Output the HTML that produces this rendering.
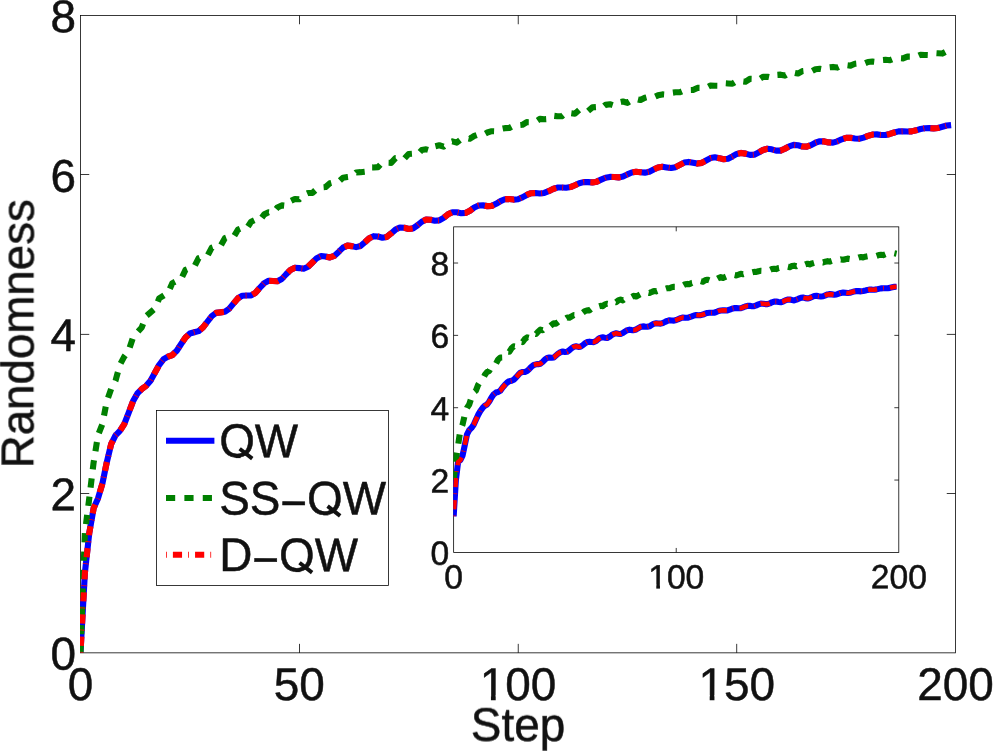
<!DOCTYPE html>
<html><head><meta charset="utf-8"><title>Randomness vs Step</title>
<style>html,body{margin:0;padding:0;background:#fff;}body{width:993px;height:751px;overflow:hidden;}svg{display:block;}text{font-family:"Liberation Sans",sans-serif;fill:#111;stroke:#111;stroke-width:0.5px;stroke-linejoin:round;text-rendering:geometricPrecision;}.t{filter:grayscale(1);}</style></head><body>
<svg width="993" height="751" viewBox="0 0 993 751">
<rect x="0" y="0" width="993" height="751" fill="#fff"/>
<defs>
<clipPath id="cm"><rect x="80.1" y="15.1" width="875.8" height="637.9"/></clipPath>
<clipPath id="ci"><rect x="453.25" y="226.45" width="445.95" height="326.34999999999997"/></clipPath>
</defs>
<!-- main axes -->
<rect x="80.5" y="15.5" width="875.0" height="637.35" stroke="#000" stroke-width="0.78" fill="none"/>
<path d="M299.50,652.85 V643.85 M299.50,15.5 V24.25" stroke="#000" stroke-width="0.78" fill="none"/>
<path d="M518.25,652.85 V643.85 M518.25,15.5 V24.25" stroke="#000" stroke-width="0.78" fill="none"/>
<path d="M736.70,652.85 V643.85 M736.70,15.5 V24.25" stroke="#000" stroke-width="0.78" fill="none"/>
<path d="M80.5,493.50 H89.25 M955.5,493.50 H946.75" stroke="#000" stroke-width="0.78" fill="none"/>
<path d="M80.5,334.40 H89.25 M955.5,334.40 H946.75" stroke="#000" stroke-width="0.78" fill="none"/>
<path d="M80.5,174.50 H89.25 M955.5,174.50 H946.75" stroke="#000" stroke-width="0.78" fill="none"/>
<g clip-path="url(#cm)" fill="none" stroke-width="6.11" stroke-linejoin="round" stroke-linecap="butt">
<path d="M80.50,652.60 L84.88,572.96 L89.25,533.14 L93.62,508.35 L98.00,498.40 L102.38,483.64 L106.75,462.44 L111.12,444.21 L115.50,435.35 L119.88,430.92 L124.25,424.13 L128.62,412.83 L133.00,401.35 L137.38,393.43 L141.75,389.05 L146.12,385.85 L150.50,380.71 L154.88,372.75 L159.25,364.77 L163.62,359.17 L168.00,356.66 L172.38,355.02 L176.75,350.71 L181.12,343.99 L185.50,337.60 L189.88,333.55 L194.25,332.26 L198.62,331.13 L203.00,327.44 L207.38,321.74 L211.75,316.13 L216.12,312.90 L220.50,312.35 L224.88,311.75 L229.25,308.66 L233.62,303.36 L238.00,298.25 L242.38,295.72 L246.75,295.55 L251.12,295.39 L255.50,292.77 L259.88,287.78 L264.25,283.11 L268.62,280.83 L273.00,280.93 L277.38,281.30 L281.75,279.00 L286.12,274.28 L290.50,269.90 L294.88,267.73 L299.25,268.09 L303.62,268.77 L308.00,266.79 L312.38,262.47 L316.75,258.19 L321.12,256.06 L325.50,256.58 L329.88,257.45 L334.25,255.91 L338.62,251.89 L343.00,247.65 L347.38,245.64 L351.75,246.13 L356.12,247.12 L360.50,246.04 L364.88,242.28 L369.25,238.19 L373.62,236.18 L378.00,236.53 L382.38,237.68 L386.75,236.92 L391.12,233.47 L395.50,229.61 L399.88,227.51 L404.25,227.76 L408.62,228.94 L413.00,228.38 L417.38,225.38 L421.75,221.73 L426.12,219.54 L430.50,219.72 L434.88,220.79 L439.25,220.39 L443.62,217.84 L448.00,214.37 L452.38,212.24 L456.75,212.31 L461.12,213.18 L465.50,212.91 L469.88,210.68 L474.25,207.51 L478.62,205.50 L483.00,205.38 L487.38,206.13 L491.75,205.87 L496.12,203.83 L500.50,201.07 L504.88,199.19 L509.25,198.96 L513.62,199.60 L518.00,199.19 L522.38,197.32 L526.75,194.95 L531.12,193.21 L535.50,193.00 L539.88,193.50 L544.25,192.92 L548.62,191.13 L553.00,189.01 L557.38,187.55 L561.75,187.44 L566.12,187.76 L570.50,187.08 L574.88,185.25 L579.25,183.25 L583.62,182.15 L588.00,182.14 L592.38,182.40 L596.75,181.65 L601.12,179.64 L605.50,177.72 L609.88,176.91 L614.25,177.06 L618.62,177.39 L623.00,176.53 L627.38,174.37 L631.75,172.45 L636.12,171.76 L640.50,172.17 L644.88,172.64 L649.25,171.70 L653.62,169.46 L658.00,167.41 L662.38,166.73 L666.75,167.43 L671.12,168.05 L675.50,167.15 L679.88,164.88 L684.25,162.61 L688.62,161.89 L693.00,162.76 L697.38,163.57 L701.75,162.86 L706.12,160.54 L710.50,158.12 L714.88,157.29 L719.25,158.14 L723.62,159.20 L728.00,158.72 L732.38,156.43 L736.75,153.94 L741.12,152.90 L745.50,153.63 L749.88,154.91 L754.25,154.64 L758.62,152.52 L763.00,150.03 L767.38,148.74 L771.75,149.34 L776.12,150.65 L780.50,150.60 L784.88,148.77 L789.25,146.30 L793.62,144.86 L798.00,145.27 L802.38,146.45 L806.75,146.61 L811.12,145.07 L815.50,142.73 L819.88,141.25 L824.25,141.41 L828.62,142.40 L833.00,142.66 L837.38,141.36 L841.75,139.29 L846.12,137.85 L850.50,137.77 L854.88,138.57 L859.25,138.76 L863.62,137.63 L868.00,135.92 L872.38,134.57 L876.75,134.37 L881.12,134.97 L885.50,134.96 L889.88,133.95 L894.25,132.52 L898.62,131.38 L903.00,131.20 L907.38,131.57 L911.75,131.36 L916.12,130.32 L920.50,129.04 L924.88,128.24 L929.25,128.17 L933.62,128.36 L938.00,127.98 L942.38,126.79 L946.75,125.56 L951.12,125.09" stroke="#0000ff"/>
<path d="M80.50,652.60 L84.88,533.14 L89.25,498.40 L93.62,462.44 L98.00,435.35 L102.38,424.13 L106.75,401.35 L111.12,389.05 L115.50,380.71 L119.88,364.77 L124.25,356.66 L128.62,350.71 L133.00,337.60 L137.38,332.26 L141.75,327.44 L146.12,316.13 L150.50,312.35 L154.88,308.66 L159.25,298.25 L163.62,295.55 L168.00,292.77 L172.38,283.11 L176.75,280.93 L181.12,279.00 L185.50,269.90 L189.88,268.09 L194.25,266.79 L198.62,258.19 L203.00,256.58 L207.38,255.91 L211.75,247.65 L216.12,246.13 L220.50,246.04 L224.88,238.19 L229.25,236.53 L233.62,236.92 L238.00,229.61 L242.38,227.76 L246.75,228.38 L251.12,221.73 L255.50,219.72 L259.88,220.39 L264.25,214.37 L268.62,212.31 L273.00,212.91 L277.38,207.51 L281.75,205.38 L286.12,205.87 L290.50,201.07 L294.88,198.96 L299.25,199.19 L303.62,194.95 L308.00,193.00 L312.38,192.92 L316.75,189.01 L321.12,187.44 L325.50,187.08 L329.88,183.25 L334.25,182.14 L338.62,181.65 L343.00,177.72 L347.38,177.06 L351.75,176.53 L356.12,172.45 L360.50,172.17 L364.88,171.70 L369.25,167.41 L373.62,167.43 L378.00,167.15 L382.38,162.61 L386.75,162.76 L391.12,162.86 L395.50,158.12 L399.88,158.14 L404.25,158.72 L408.62,153.94 L413.00,153.63 L417.38,154.64 L421.75,150.03 L426.12,149.34 L430.50,150.60 L434.88,146.30 L439.25,145.27 L443.62,146.61 L448.00,142.73 L452.38,141.41 L456.75,142.66 L461.12,139.29 L465.50,137.77 L469.88,138.76 L474.25,135.92 L478.62,134.37 L483.00,134.96 L487.38,132.52 L491.75,131.20 L496.12,131.36 L500.50,129.04 L504.88,128.17 L509.25,127.98 L513.62,125.56 L518.00,125.19 L522.38,124.82 L526.75,122.16 L531.12,122.23 L535.50,121.82 L539.88,118.86 L544.25,119.26 L548.62,118.98 L553.00,115.69 L557.38,116.22 L561.75,116.29 L566.12,112.69 L570.50,113.12 L574.88,113.69 L579.25,109.91 L583.62,110.02 L588.00,111.06 L592.38,107.32 L596.75,107.03 L601.12,108.36 L605.50,104.86 L609.88,104.19 L614.25,105.60 L618.62,102.47 L623.00,101.52 L627.38,102.82 L631.75,100.11 L636.12,98.99 L640.50,100.06 L644.88,97.76 L649.25,96.63 L653.62,97.34 L658.00,95.35 L662.38,94.41 L666.75,94.73 L671.12,92.86 L675.50,92.28 L679.88,92.29 L684.25,90.35 L688.62,90.13 L693.00,90.01 L697.38,87.88 L701.75,87.93 L706.12,87.84 L710.50,85.49 L714.88,85.70 L719.25,85.75 L723.62,83.17 L728.00,83.46 L732.38,83.74 L736.75,80.94 L741.12,81.20 L745.50,81.74 L749.88,78.84 L754.25,78.95 L758.62,79.72 L763.00,76.86 L767.38,76.74 L771.75,77.65 L776.12,74.94 L780.50,74.64 L784.88,75.59 L789.25,73.03 L793.62,72.62 L798.00,73.56 L802.38,71.11 L806.75,70.67 L811.12,71.55 L815.50,69.23 L819.88,68.77 L824.25,69.55 L828.62,67.40 L833.00,66.93 L837.38,67.57 L841.75,65.57 L846.12,65.12 L850.50,65.66 L854.88,63.75 L859.25,63.31 L863.62,63.82 L868.00,61.95 L872.38,61.53 L876.75,62.01 L881.12,60.16 L885.50,59.82 L889.88,60.20 L894.25,58.38 L898.62,58.19 L903.00,58.42 L907.38,56.57 L911.75,56.58 L916.12,56.73 L920.50,54.77 L924.88,54.95 L929.25,55.12 L933.62,53.00 L938.00,53.29 L942.38,53.57 L946.75,51.27 L951.12,51.61" stroke="#008000" stroke-dasharray="9.19 9.19"/>
<path d="M80.50,652.60 L84.88,572.96 L89.25,533.14 L93.62,508.35 L98.00,498.40 L102.38,483.64 L106.75,462.44 L111.12,444.21 L115.50,435.35 L119.88,430.92 L124.25,424.13 L128.62,412.83 L133.00,401.35 L137.38,393.43 L141.75,389.05 L146.12,385.85 L150.50,380.71 L154.88,372.75 L159.25,364.77 L163.62,359.17 L168.00,356.66 L172.38,355.02 L176.75,350.71 L181.12,343.99 L185.50,337.60 L189.88,333.55 L194.25,332.26 L198.62,331.13 L203.00,327.44 L207.38,321.74 L211.75,316.13 L216.12,312.90 L220.50,312.35 L224.88,311.75 L229.25,308.66 L233.62,303.36 L238.00,298.25 L242.38,295.72 L246.75,295.55 L251.12,295.39 L255.50,292.77 L259.88,287.78 L264.25,283.11 L268.62,280.83 L273.00,280.93 L277.38,281.30 L281.75,279.00 L286.12,274.28 L290.50,269.90 L294.88,267.73 L299.25,268.09 L303.62,268.77 L308.00,266.79 L312.38,262.47 L316.75,258.19 L321.12,256.06 L325.50,256.58 L329.88,257.45 L334.25,255.91 L338.62,251.89 L343.00,247.65 L347.38,245.64 L351.75,246.13 L356.12,247.12 L360.50,246.04 L364.88,242.28 L369.25,238.19 L373.62,236.18 L378.00,236.53 L382.38,237.68 L386.75,236.92 L391.12,233.47 L395.50,229.61 L399.88,227.51 L404.25,227.76 L408.62,228.94 L413.00,228.38 L417.38,225.38 L421.75,221.73 L426.12,219.54 L430.50,219.72 L434.88,220.79 L439.25,220.39 L443.62,217.84 L448.00,214.37 L452.38,212.24 L456.75,212.31 L461.12,213.18 L465.50,212.91 L469.88,210.68 L474.25,207.51 L478.62,205.50 L483.00,205.38 L487.38,206.13 L491.75,205.87 L496.12,203.83 L500.50,201.07 L504.88,199.19 L509.25,198.96 L513.62,199.60 L518.00,199.19 L522.38,197.32 L526.75,194.95 L531.12,193.21 L535.50,193.00 L539.88,193.50 L544.25,192.92 L548.62,191.13 L553.00,189.01 L557.38,187.55 L561.75,187.44 L566.12,187.76 L570.50,187.08 L574.88,185.25 L579.25,183.25 L583.62,182.15 L588.00,182.14 L592.38,182.40 L596.75,181.65 L601.12,179.64 L605.50,177.72 L609.88,176.91 L614.25,177.06 L618.62,177.39 L623.00,176.53 L627.38,174.37 L631.75,172.45 L636.12,171.76 L640.50,172.17 L644.88,172.64 L649.25,171.70 L653.62,169.46 L658.00,167.41 L662.38,166.73 L666.75,167.43 L671.12,168.05 L675.50,167.15 L679.88,164.88 L684.25,162.61 L688.62,161.89 L693.00,162.76 L697.38,163.57 L701.75,162.86 L706.12,160.54 L710.50,158.12 L714.88,157.29 L719.25,158.14 L723.62,159.20 L728.00,158.72 L732.38,156.43 L736.75,153.94 L741.12,152.90 L745.50,153.63 L749.88,154.91 L754.25,154.64 L758.62,152.52 L763.00,150.03 L767.38,148.74 L771.75,149.34 L776.12,150.65 L780.50,150.60 L784.88,148.77 L789.25,146.30 L793.62,144.86 L798.00,145.27 L802.38,146.45 L806.75,146.61 L811.12,145.07 L815.50,142.73 L819.88,141.25 L824.25,141.41 L828.62,142.40 L833.00,142.66 L837.38,141.36 L841.75,139.29 L846.12,137.85 L850.50,137.77 L854.88,138.57 L859.25,138.76 L863.62,137.63 L868.00,135.92 L872.38,134.57 L876.75,134.37 L881.12,134.97 L885.50,134.96 L889.88,133.95 L894.25,132.52 L898.62,131.38 L903.00,131.20 L907.38,131.57 L911.75,131.36 L916.12,130.32 L920.50,129.04 L924.88,128.24 L929.25,128.17 L933.62,128.36 L938.00,127.98 L942.38,126.79 L946.75,125.56 L951.12,125.09" stroke="#ff0000" stroke-width="6.11" stroke-dasharray="0.8 6.09 9.167 6.111"/>
</g>
<!-- inset axes -->
<rect x="453.65" y="226.85" width="445.15" height="325.54999999999995" stroke="#000" stroke-width="0.78" fill="none" fill="#fff"/>
<path d="M676.22,552.4 V547.9499999999999 M676.22,226.85 V231.29999999999998" stroke="#000" stroke-width="0.78" fill="none"/>
<path d="M453.65,480.06 H458.09999999999997 M898.8,480.06 H894.3499999999999" stroke="#000" stroke-width="0.78" fill="none"/>
<path d="M453.65,407.71 H458.09999999999997 M898.8,407.71 H894.3499999999999" stroke="#000" stroke-width="0.78" fill="none"/>
<path d="M453.65,335.37 H458.09999999999997 M898.8,335.37 H894.3499999999999" stroke="#000" stroke-width="0.78" fill="none"/>
<path d="M453.65,263.02 H458.09999999999997 M898.8,263.02 H894.3499999999999" stroke="#000" stroke-width="0.78" fill="none"/>
<g clip-path="url(#ci)" fill="none" stroke-width="6.11" stroke-linejoin="round" stroke-linecap="butt">
<path d="M453.65,516.23 L455.88,480.06 L458.10,461.97 L460.33,460.20 L462.55,455.68 L464.78,445.12 L467.00,434.36 L469.23,430.18 L471.46,427.93 L473.68,424.69 L475.91,419.75 L478.13,414.90 L480.36,411.06 L482.58,407.96 L484.81,405.70 L487.04,404.51 L489.26,401.49 L491.49,397.49 L493.71,394.31 L495.94,392.57 L498.16,392.00 L500.39,390.59 L502.62,387.50 L504.84,384.90 L507.07,382.63 L509.29,381.16 L511.52,380.73 L513.75,379.69 L515.97,377.54 L518.20,374.96 L520.42,372.66 L522.65,372.02 L524.87,372.00 L527.10,370.96 L529.33,368.95 L531.55,366.61 L533.78,364.94 L536.00,364.33 L538.23,364.14 L540.45,363.72 L542.68,361.95 L544.91,359.56 L547.13,358.05 L549.36,357.53 L551.58,357.76 L553.81,357.45 L556.03,355.50 L558.26,353.56 L560.49,352.20 L562.71,351.56 L564.94,351.94 L567.16,351.78 L569.39,350.16 L571.61,348.27 L573.84,346.69 L576.07,346.34 L578.29,346.86 L580.52,346.66 L582.74,345.27 L584.97,343.42 L587.19,341.99 L589.42,341.67 L591.65,341.96 L593.87,342.08 L596.10,340.99 L598.32,339.00 L600.55,337.68 L602.78,337.33 L605.00,337.66 L607.23,337.93 L609.45,336.79 L611.68,335.06 L613.90,333.87 L616.13,333.30 L618.36,333.67 L620.58,333.97 L622.81,333.04 L625.03,331.52 L627.26,330.14 L629.48,329.66 L631.71,330.11 L633.94,330.22 L636.16,329.49 L638.39,328.16 L640.61,326.80 L642.84,326.38 L645.06,326.61 L647.29,326.75 L649.52,326.27 L651.74,324.94 L653.97,323.68 L656.19,323.29 L658.42,323.44 L660.64,323.60 L662.87,323.02 L665.10,321.89 L667.32,320.91 L669.55,320.33 L671.77,320.46 L674.00,320.65 L676.22,319.99 L678.45,319.07 L680.68,318.13 L682.90,317.57 L685.13,317.82 L687.35,317.81 L689.58,317.10 L691.81,316.35 L694.03,315.49 L696.26,315.06 L698.48,315.21 L700.71,315.14 L702.93,314.54 L705.16,313.65 L707.39,312.92 L709.61,312.69 L711.84,312.75 L714.06,312.71 L716.29,312.03 L718.51,311.05 L720.74,310.55 L722.97,310.35 L725.19,310.39 L727.42,310.46 L729.64,309.67 L731.87,308.66 L734.09,308.16 L736.32,308.03 L738.55,308.28 L740.77,308.26 L743.00,307.40 L745.22,306.46 L747.45,305.84 L749.67,305.81 L751.90,306.19 L754.13,306.11 L756.35,305.39 L758.58,304.35 L760.80,303.58 L763.03,303.69 L765.25,304.12 L767.48,304.11 L769.71,303.44 L771.93,302.30 L774.16,301.56 L776.38,301.60 L778.61,302.01 L780.84,302.23 L783.06,301.57 L785.29,300.40 L787.51,299.65 L789.74,299.52 L791.96,300.04 L794.19,300.37 L796.42,299.68 L798.64,298.66 L800.87,297.83 L803.09,297.57 L805.32,298.11 L807.54,298.45 L809.77,297.94 L812.00,297.00 L814.22,296.04 L816.45,295.80 L818.67,296.25 L820.90,296.54 L823.12,296.23 L825.35,295.32 L827.58,294.42 L829.80,294.15 L832.03,294.39 L834.25,294.74 L836.48,294.51 L838.70,293.67 L840.93,292.89 L843.16,292.52 L845.38,292.70 L847.61,293.03 L849.83,292.71 L852.06,292.07 L854.28,291.43 L856.51,290.96 L858.74,291.13 L860.96,291.35 L863.19,290.99 L865.41,290.50 L867.64,289.90 L869.87,289.52 L872.09,289.67 L874.32,289.71 L876.54,289.37 L878.77,288.86 L880.99,288.38 L883.22,288.18 L885.45,288.20 L887.67,288.20 L889.90,287.87 L892.12,287.22 L894.35,286.87 L896.57,286.82" stroke="#0000ff"/>
<path d="M453.65,480.06 L455.88,460.20 L458.10,445.12 L460.33,430.18 L462.55,424.69 L464.78,414.90 L467.00,407.96 L469.23,404.51 L471.46,397.49 L473.68,392.57 L475.91,390.59 L478.13,384.90 L480.36,381.16 L482.58,379.69 L484.81,374.96 L487.04,372.02 L489.26,370.96 L491.49,366.61 L493.71,364.33 L495.94,363.72 L498.16,359.56 L500.39,357.53 L502.62,357.45 L504.84,353.56 L507.07,351.56 L509.29,351.78 L511.52,348.27 L513.75,346.34 L515.97,346.66 L518.20,343.42 L520.42,341.67 L522.65,342.08 L524.87,339.00 L527.10,337.33 L529.33,337.93 L531.55,335.06 L533.78,333.30 L536.00,333.97 L538.23,331.52 L540.45,329.66 L542.68,330.22 L544.91,328.16 L547.13,326.38 L549.36,326.75 L551.58,324.94 L553.81,323.29 L556.03,323.60 L558.26,321.89 L560.49,320.33 L562.71,320.65 L564.94,319.07 L567.16,317.57 L569.39,317.81 L571.61,316.35 L573.84,315.06 L576.07,315.14 L578.29,313.65 L580.52,312.69 L582.74,312.71 L584.97,311.05 L587.19,310.35 L589.42,310.46 L591.65,308.66 L593.87,308.03 L596.10,308.26 L598.32,306.46 L600.55,305.81 L602.78,306.11 L605.00,304.35 L607.23,303.69 L609.45,304.11 L611.68,302.30 L613.90,301.60 L616.13,302.23 L618.36,300.40 L620.58,299.52 L622.81,300.37 L625.03,298.66 L627.26,297.57 L629.48,298.45 L631.71,297.00 L633.94,295.80 L636.16,296.54 L638.39,295.32 L640.61,294.15 L642.84,294.74 L645.06,293.67 L647.29,292.52 L649.52,293.03 L651.74,292.07 L653.97,290.96 L656.19,291.35 L658.42,290.50 L660.64,289.52 L662.87,289.71 L665.10,288.86 L667.32,288.18 L669.55,288.20 L671.77,287.22 L674.00,286.82 L676.22,286.83 L678.45,285.66 L680.68,285.39 L682.90,285.51 L685.13,284.24 L687.35,283.93 L689.58,284.20 L691.81,282.90 L694.03,282.51 L696.26,282.93 L698.48,281.56 L700.71,281.11 L702.93,281.74 L705.16,280.28 L707.39,279.71 L709.61,280.54 L711.84,279.12 L714.06,278.35 L716.29,279.25 L718.51,278.04 L720.74,277.12 L722.97,277.90 L725.19,276.93 L727.42,276.00 L729.64,276.61 L731.87,275.79 L734.09,274.91 L736.32,275.39 L738.55,274.64 L740.77,273.83 L743.00,274.21 L745.22,273.53 L747.45,272.80 L749.67,273.03 L751.90,272.40 L754.13,271.84 L756.35,271.93 L758.58,271.23 L760.80,270.86 L763.03,270.95 L765.25,270.08 L767.48,269.79 L769.71,270.02 L771.93,269.02 L774.16,268.70 L776.38,269.08 L778.61,268.03 L780.84,267.66 L783.06,268.11 L785.29,267.04 L787.51,266.67 L789.74,267.16 L791.96,266.07 L794.19,265.67 L796.42,266.25 L798.64,265.17 L800.87,264.65 L803.09,265.31 L805.32,264.33 L807.54,263.69 L809.77,264.33 L812.00,263.46 L814.22,262.83 L816.45,263.36 L818.67,262.55 L820.90,262.00 L823.12,262.45 L825.35,261.66 L827.58,261.14 L829.80,261.57 L832.03,260.84 L834.25,260.26 L836.48,260.67 L838.70,260.04 L840.93,259.42 L843.16,259.79 L845.38,259.19 L847.61,258.64 L849.83,258.97 L852.06,258.31 L854.28,257.84 L856.51,258.20 L858.74,257.46 L860.96,257.04 L863.19,257.39 L865.41,256.67 L867.64,256.29 L869.87,256.57 L872.09,255.87 L874.32,255.57 L876.54,255.79 L878.77,255.04 L880.99,254.82 L883.22,255.09 L885.45,254.22 L887.67,254.02 L889.90,254.41 L892.12,253.47 L894.35,253.21 L896.57,253.70" stroke="#008000" stroke-dasharray="9.19 9.19"/>
<path d="M453.65,516.23 L455.88,480.06 L458.10,461.97 L460.33,460.20 L462.55,455.68 L464.78,445.12 L467.00,434.36 L469.23,430.18 L471.46,427.93 L473.68,424.69 L475.91,419.75 L478.13,414.90 L480.36,411.06 L482.58,407.96 L484.81,405.70 L487.04,404.51 L489.26,401.49 L491.49,397.49 L493.71,394.31 L495.94,392.57 L498.16,392.00 L500.39,390.59 L502.62,387.50 L504.84,384.90 L507.07,382.63 L509.29,381.16 L511.52,380.73 L513.75,379.69 L515.97,377.54 L518.20,374.96 L520.42,372.66 L522.65,372.02 L524.87,372.00 L527.10,370.96 L529.33,368.95 L531.55,366.61 L533.78,364.94 L536.00,364.33 L538.23,364.14 L540.45,363.72 L542.68,361.95 L544.91,359.56 L547.13,358.05 L549.36,357.53 L551.58,357.76 L553.81,357.45 L556.03,355.50 L558.26,353.56 L560.49,352.20 L562.71,351.56 L564.94,351.94 L567.16,351.78 L569.39,350.16 L571.61,348.27 L573.84,346.69 L576.07,346.34 L578.29,346.86 L580.52,346.66 L582.74,345.27 L584.97,343.42 L587.19,341.99 L589.42,341.67 L591.65,341.96 L593.87,342.08 L596.10,340.99 L598.32,339.00 L600.55,337.68 L602.78,337.33 L605.00,337.66 L607.23,337.93 L609.45,336.79 L611.68,335.06 L613.90,333.87 L616.13,333.30 L618.36,333.67 L620.58,333.97 L622.81,333.04 L625.03,331.52 L627.26,330.14 L629.48,329.66 L631.71,330.11 L633.94,330.22 L636.16,329.49 L638.39,328.16 L640.61,326.80 L642.84,326.38 L645.06,326.61 L647.29,326.75 L649.52,326.27 L651.74,324.94 L653.97,323.68 L656.19,323.29 L658.42,323.44 L660.64,323.60 L662.87,323.02 L665.10,321.89 L667.32,320.91 L669.55,320.33 L671.77,320.46 L674.00,320.65 L676.22,319.99 L678.45,319.07 L680.68,318.13 L682.90,317.57 L685.13,317.82 L687.35,317.81 L689.58,317.10 L691.81,316.35 L694.03,315.49 L696.26,315.06 L698.48,315.21 L700.71,315.14 L702.93,314.54 L705.16,313.65 L707.39,312.92 L709.61,312.69 L711.84,312.75 L714.06,312.71 L716.29,312.03 L718.51,311.05 L720.74,310.55 L722.97,310.35 L725.19,310.39 L727.42,310.46 L729.64,309.67 L731.87,308.66 L734.09,308.16 L736.32,308.03 L738.55,308.28 L740.77,308.26 L743.00,307.40 L745.22,306.46 L747.45,305.84 L749.67,305.81 L751.90,306.19 L754.13,306.11 L756.35,305.39 L758.58,304.35 L760.80,303.58 L763.03,303.69 L765.25,304.12 L767.48,304.11 L769.71,303.44 L771.93,302.30 L774.16,301.56 L776.38,301.60 L778.61,302.01 L780.84,302.23 L783.06,301.57 L785.29,300.40 L787.51,299.65 L789.74,299.52 L791.96,300.04 L794.19,300.37 L796.42,299.68 L798.64,298.66 L800.87,297.83 L803.09,297.57 L805.32,298.11 L807.54,298.45 L809.77,297.94 L812.00,297.00 L814.22,296.04 L816.45,295.80 L818.67,296.25 L820.90,296.54 L823.12,296.23 L825.35,295.32 L827.58,294.42 L829.80,294.15 L832.03,294.39 L834.25,294.74 L836.48,294.51 L838.70,293.67 L840.93,292.89 L843.16,292.52 L845.38,292.70 L847.61,293.03 L849.83,292.71 L852.06,292.07 L854.28,291.43 L856.51,290.96 L858.74,291.13 L860.96,291.35 L863.19,290.99 L865.41,290.50 L867.64,289.90 L869.87,289.52 L872.09,289.67 L874.32,289.71 L876.54,289.37 L878.77,288.86 L880.99,288.38 L883.22,288.18 L885.45,288.20 L887.67,288.20 L889.90,287.87 L892.12,287.22 L894.35,286.87 L896.57,286.82" stroke="#ff0000" stroke-width="4.58" stroke-dasharray="0.8 6.09 9.167 6.111"/>
</g>
<!-- legend -->
<rect x="156.5" y="410.5" width="232.0" height="175.0" stroke="#000" stroke-width="0.78" fill="none" fill="#fff"/>
<g fill="none" stroke-width="6.11" stroke-linecap="butt">
<path d="M166,440.7 H214.4" stroke="#0000ff"/>
<path d="M166,498 H214.4" stroke="#008000" stroke-dasharray="9.19 9.19"/>
<path d="M166,554.7 H214.4" stroke="#ff0000" stroke-dasharray="0.8 6.09 9.167 6.111"/>
</g>
<!-- text -->
<g class="t">
<text transform="translate(80.50,700.10) rotate(0.1)" font-size="45.83" text-anchor="middle">0</text>
<text transform="translate(299.25,700.10) rotate(0.1)" font-size="45.83" text-anchor="middle">50</text>
<text transform="translate(518.00,700.10) rotate(0.1)" font-size="45.83" text-anchor="middle">100</text>
<rect x="481.66" y="695.28" width="9.28" height="6.22" fill="#fff" stroke="none"/>
<rect x="495.69" y="695.28" width="8.93" height="6.22" fill="#fff" stroke="none"/>
<text transform="translate(736.75,700.10) rotate(0.1)" font-size="45.83" text-anchor="middle">150</text>
<rect x="700.41" y="695.28" width="9.28" height="6.22" fill="#fff" stroke="none"/>
<rect x="714.44" y="695.28" width="8.93" height="6.22" fill="#fff" stroke="none"/>
<text transform="translate(955.50,700.10) rotate(0.1)" font-size="45.83" text-anchor="middle">200</text>
<text transform="translate(76.00,669.50) rotate(0.1)" font-size="45.83" text-anchor="end">0</text>
<text transform="translate(76.00,510.23) rotate(0.1)" font-size="45.83" text-anchor="end">2</text>
<text transform="translate(76.00,350.95) rotate(0.1)" font-size="45.83" text-anchor="end">4</text>
<text transform="translate(76.00,191.67) rotate(0.1)" font-size="45.83" text-anchor="end">6</text>
<text transform="translate(76.00,32.40) rotate(0.1)" font-size="45.83" text-anchor="end">8</text>
<text transform="translate(518.00,740.80) rotate(0.1) scale(1,1.025)" font-size="45.83" text-anchor="middle">Step</text>
<text transform="translate(33.40,333.80) rotate(-89.95)" font-size="45.83" text-anchor="middle" letter-spacing="-0.09">Randomness</text>
<text transform="translate(453.65,588.40) rotate(0.1)" font-size="33.61" text-anchor="middle" stroke-width="0.25">0</text>
<text transform="translate(676.22,588.40) rotate(0.1)" font-size="33.61" text-anchor="middle" stroke-width="0.25">100</text>
<rect x="649.15" y="584.49" width="7.14" height="5.31" fill="#fff" stroke="none"/>
<rect x="659.96" y="584.49" width="6.88" height="5.31" fill="#fff" stroke="none"/>
<text transform="translate(898.80,588.40) rotate(0.1)" font-size="33.61" text-anchor="middle" stroke-width="0.25">200</text>
<text transform="translate(449.20,564.90) rotate(0.1)" font-size="33.61" text-anchor="end" stroke-width="0.25">0</text>
<text transform="translate(449.20,492.56) rotate(0.1)" font-size="33.61" text-anchor="end" stroke-width="0.25">2</text>
<text transform="translate(449.20,420.21) rotate(0.1)" font-size="33.61" text-anchor="end" stroke-width="0.25">4</text>
<text transform="translate(449.20,347.87) rotate(0.1)" font-size="33.61" text-anchor="end" stroke-width="0.25">6</text>
<text transform="translate(449.20,275.52) rotate(0.1)" font-size="33.61" text-anchor="end" stroke-width="0.25">8</text>
<text transform="translate(219.20,457.10) rotate(0.1) scale(1,1.03)" font-size="45.83" text-anchor="start">QW</text>
<rect x="227.37" y="458.10" width="22" height="10.5" fill="#fff" stroke="none"/>
<path d="M239.67,448.80 L252.27,458.60" stroke="#111" stroke-width="3.9" fill="none"/>
<text transform="translate(219.20,514.40) rotate(0.1) scale(1,1.03)" font-size="45.83" text-anchor="start">SS<tspan dy="4.4">−</tspan><tspan dy="-4.4">QW</tspan></text>
<rect x="315.27" y="515.40" width="22" height="10.5" fill="#fff" stroke="none"/>
<path d="M327.57,506.10 L340.17,515.90" stroke="#111" stroke-width="3.9" fill="none"/>
<text transform="translate(219.20,571.10) rotate(0.1) scale(1,1.03)" font-size="45.83" text-anchor="start">D<tspan dy="4.4">−</tspan><tspan dy="-4.4">QW</tspan></text>
<rect x="287.23" y="572.10" width="22" height="10.5" fill="#fff" stroke="none"/>
<path d="M299.53,562.80 L312.13,572.60" stroke="#111" stroke-width="3.9" fill="none"/>
</g>
</svg></body></html>
